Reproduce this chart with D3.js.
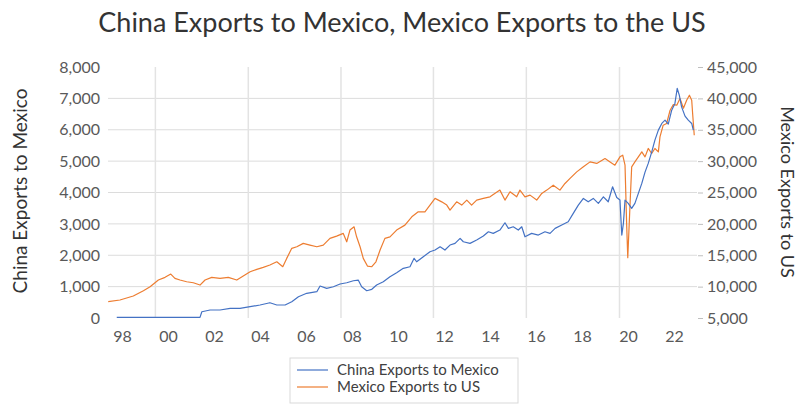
<!DOCTYPE html>
<html>
<head>
<meta charset="utf-8">
<script src="https://cdn.jsdelivr.net/npm/d3@7"></script>
<style>
  html, body { margin: 0; padding: 0; background: #ffffff; }
  svg { display: block; }
  text { font-family: Lato, "Open Sans", sans-serif; }
</style>
</head>
<body>
<svg id="chart" width="800" height="404"></svg>
<script>
// ---------------- DATA ----------------
const titleText = "China Exports to Mexico, Mexico Exports to the US";
const seriesNames = ["China Exports to Mexico", "Mexico Exports to US"];
const xTickYears = [1998, 2000, 2002, 2004, 2006, 2008, 2010, 2012, 2014, 2016, 2018, 2020, 2022];
const xTickLabels = ["98", "00", "02", "04", "06", "08", "10", "12", "14", "16", "18", "20", "22"];
const xGridYears = [1999.45, 2003.49, 2007.52, 2011.54, 2015.58, 2019.63];
const leftTicks = [0, 1000, 2000, 3000, 4000, 5000, 6000, 7000, 8000];
const rightTicks = [5000, 10000, 15000, 20000, 25000, 30000, 35000, 40000, 45000];

// China exports to Mexico (left axis)
const chinaDates = [1997.77, 2001.39, 2001.47, 2001.83, 2002.26, 2002.70, 2003.13, 2003.57, 2004.00, 2004.43,
  2004.73, 2005.09, 2005.38, 2005.67, 2006.03, 2006.47, 2006.61, 2006.90, 2007.19, 2007.48,
  2007.77, 2008.06, 2008.27, 2008.42, 2008.64, 2008.86, 2009.07, 2009.36, 2009.65, 2009.94,
  2010.23, 2010.52, 2010.70, 2010.81, 2011.10, 2011.39, 2011.61, 2011.83, 2012.04, 2012.26,
  2012.48, 2012.70, 2012.84, 2013.13, 2013.42, 2013.71, 2013.93, 2014.14, 2014.43, 2014.65,
  2014.80, 2015.01, 2015.23, 2015.38, 2015.52, 2015.81, 2016.10, 2016.39, 2016.61, 2016.83,
  2017.12, 2017.40, 2017.62, 2017.84, 2018.06, 2018.27, 2018.49, 2018.71, 2018.93, 2019.14,
  2019.33, 2019.51, 2019.65, 2019.73, 2019.80, 2019.87, 2020.01, 2020.16, 2020.30, 2020.45,
  2020.60, 2020.74, 2020.88, 2021.03, 2021.17, 2021.32, 2021.47, 2021.61, 2021.75, 2021.90,
  2022.04, 2022.14, 2022.23, 2022.33, 2022.48, 2022.62, 2022.77, 2022.84];
const chinaValues = [20, 20, 200, 255, 255, 309, 309, 360, 414, 487,
  414, 414, 519, 678, 787, 838, 1019, 946, 997, 1083,
  1124, 1188, 1210, 997, 870, 914, 1051, 1156, 1315, 1443,
  1583, 1634, 1901, 1793, 1952, 2112, 2166, 2271, 2166, 2325,
  2379, 2538, 2430, 2379, 2484, 2612, 2749, 2698, 2803, 3035,
  2857, 2908, 2803, 2908, 2589, 2698, 2644, 2749, 2698, 2857,
  2962, 3067, 3335, 3599, 3812, 3704, 3812, 3653, 3863, 3704,
  4182, 3838, 3758, 2644, 3016, 3758, 3653, 3494, 3653, 3972,
  4290, 4650, 4927, 5287, 5669, 5988, 6201, 6306, 6179, 6625,
  6838, 7316, 7103, 6730, 6434, 6306, 6201, 5988];

// Mexico exports to US (right axis)
const mexicoDates = [1997.40, 1997.91, 1998.49, 1998.93, 1999.22, 1999.58, 1999.87, 2000.12, 2000.30, 2000.52,
  2000.81, 2001.10, 2001.39, 2001.61, 2001.90, 2002.26, 2002.62, 2002.99, 2003.27, 2003.57,
  2003.86, 2004.14, 2004.43, 2004.73, 2004.99, 2005.16, 2005.38, 2005.60, 2005.88, 2006.17,
  2006.47, 2006.75, 2007.04, 2007.33, 2007.62, 2007.77, 2007.91, 2008.09, 2008.20, 2008.35,
  2008.49, 2008.67, 2008.86, 2009.04, 2009.22, 2009.43, 2009.65, 2009.94, 2010.30, 2010.60,
  2010.88, 2011.17, 2011.39, 2011.61, 2011.90, 2012.12, 2012.26, 2012.55, 2012.77, 2012.99,
  2013.20, 2013.42, 2013.71, 2014.00, 2014.43, 2014.65, 2014.87, 2015.16, 2015.30, 2015.52,
  2015.74, 2016.03, 2016.25, 2016.47, 2016.75, 2017.04, 2017.26, 2017.48, 2017.77, 2018.06,
  2018.35, 2018.64, 2019.00, 2019.22, 2019.43, 2019.65, 2019.77, 2019.87, 2019.94, 2019.99,
  2020.09, 2020.16, 2020.30, 2020.45, 2020.60, 2020.74, 2020.88, 2021.03, 2021.17, 2021.32,
  2021.39, 2021.53, 2021.68, 2021.83, 2021.97, 2022.12, 2022.26, 2022.41, 2022.55, 2022.67,
  2022.77, 2022.81, 2022.88];
const mexicoValues = [7600, 7870, 8500, 9350, 9980, 11050, 11480, 12000, 11320, 11050,
  10780, 10620, 10250, 11050, 11480, 11320, 11480, 11050, 11690, 12370,
  12750, 13070, 13440, 13960, 13170, 14500, 16100, 16350, 16890, 16620,
  16350, 16620, 17690, 18050, 18480, 17150, 19010, 19530, 17940, 16350,
  14500, 13280, 13170, 13960, 15830, 17690, 17940, 19010, 19800, 21130,
  21920, 21920, 22990, 24060, 23510, 22990, 22190, 23510, 22990, 23790,
  22990, 23790, 24060, 24310, 25380, 23790, 25110, 24310, 25380, 24310,
  24580, 23790, 24850, 25380, 26170, 25380, 26440, 27240, 28290, 29090,
  29880, 29630, 30420, 29880, 29360, 30680, 30950, 29360, 20080, 14600,
  23260, 29090, 29880, 30680, 31480, 30680, 32020, 31220, 32020, 31480,
  33860, 35730, 36000, 38110, 39000, 38910, 39980, 38430, 39710, 40500,
  39710, 37590, 34130];

// ---------------- CHART ----------------
const svg = d3.select("#chart");
const plot = { left: 108, right: 697, top: 67, bottom: 318 };

const x = d3.scaleLinear().domain([1997.39, 2023.0]).range([plot.left, plot.right]);
const yL = d3.scaleLinear().domain([0, 8000]).range([plot.bottom, plot.top]);
const yR = d3.scaleLinear().domain([5000, 45000]).range([plot.bottom, plot.top]);

const textColor = "#595959";
const gridColor = "#dcdcdc";
const blue = "#4472C4";
const orange = "#ED7D31";
const fontFam = "Lato, 'Open Sans', sans-serif";

// title
svg.append("text")
  .attr("x", 402).attr("y", 32)
  .attr("text-anchor", "middle")
  .attr("font-size", 27)
  .attr("fill", "#333333")
  .text(titleText);

// horizontal gridlines (interior)
svg.append("g").selectAll("line")
  .data(leftTicks.filter(d => d > 0 && d < 8000))
  .join("line")
  .attr("x1", plot.left).attr("x2", plot.right)
  .attr("y1", d => yL(d)).attr("y2", d => yL(d))
  .attr("stroke", gridColor).attr("stroke-width", 1);

// vertical gridlines
svg.append("g").selectAll("line")
  .data(xGridYears)
  .join("line")
  .attr("x1", d => x(d)).attr("x2", d => x(d))
  .attr("y1", plot.top).attr("y2", plot.bottom)
  .attr("stroke", "#e3e3e3").attr("stroke-width", 1.5);

// left axis
const leftAxis = d3.axisLeft(yL).tickValues(leftTicks).tickSize(0).tickPadding(8)
  .tickFormat(d3.format(","));
const gL = svg.append("g").attr("transform", `translate(${plot.left},0)`).call(leftAxis);
gL.select(".domain").remove();
gL.selectAll("text").attr("font-size", 16).attr("fill", textColor).style("font-family", fontFam);

// right axis
const rightAxis = d3.axisRight(yR).tickValues(rightTicks).tickSize(5).tickPadding(4)
  .tickFormat(d3.format(","));
const gR = svg.append("g").attr("transform", `translate(${plot.right + 1},0)`).call(rightAxis);
gR.select(".domain").remove();
gR.selectAll("line").attr("stroke", "#bfbfbf");
gR.selectAll("text").attr("font-size", 16).attr("fill", textColor).style("font-family", fontFam);

// bottom axis
const bottomAxis = d3.axisBottom(x).tickValues(xTickYears).tickSize(0).tickPadding(13)
  .tickFormat((d, i) => xTickLabels[i]);
const gB = svg.append("g").attr("transform", `translate(0,${plot.bottom})`).call(bottomAxis);
gB.select(".domain").remove();
gB.selectAll("text").attr("font-size", 16).attr("fill", textColor).style("font-family", fontFam);

// axis titles
svg.append("text")
  .attr("transform", "translate(27,191) rotate(-90)")
  .attr("text-anchor", "middle")
  .attr("font-size", 19)
  .attr("fill", "#333333")
  .text(seriesNames[0]);
svg.append("text")
  .attr("transform", "translate(781,192) rotate(90)")
  .attr("text-anchor", "middle")
  .attr("font-size", 18)
  .attr("fill", "#333333")
  .text(seriesNames[1]);

// lines
const chinaData = chinaDates.map((d, i) => ({ t: d, v: chinaValues[i] }));
const mexicoData = mexicoDates.map((d, i) => ({ t: d, v: mexicoValues[i] }));

svg.append("path")
  .datum(mexicoData)
  .attr("fill", "none")
  .attr("stroke", orange)
  .attr("stroke-width", 1.2)
  .attr("stroke-linejoin", "round")
  .attr("d", d3.line().x(d => x(d.t)).y(d => yR(d.v)));

svg.append("path")
  .datum(chinaData)
  .attr("fill", "none")
  .attr("stroke", blue)
  .attr("stroke-width", 1.2)
  .attr("stroke-linejoin", "round")
  .attr("d", d3.line().x(d => x(d.t)).y(d => yL(d.v)));

// legend
const lg = svg.append("g").attr("transform", "translate(290,358)");
lg.append("rect").attr("x", 0).attr("y", 0).attr("width", 228).attr("height", 45)
  .attr("fill", "#ffffff").attr("stroke", "#d9d9d9");
[blue, orange].forEach((c, i) => {
  const yy = 12 + i * 17;
  lg.append("line").attr("x1", 7).attr("x2", 38).attr("y1", yy).attr("y2", yy)
    .attr("stroke", c).attr("stroke-width", 1.2);
  lg.append("text").attr("x", 47).attr("y", yy + 5)
    .attr("font-size", 15).attr("fill", "#404040")
    .text(seriesNames[i]);
});
</script>
</body>
</html>
